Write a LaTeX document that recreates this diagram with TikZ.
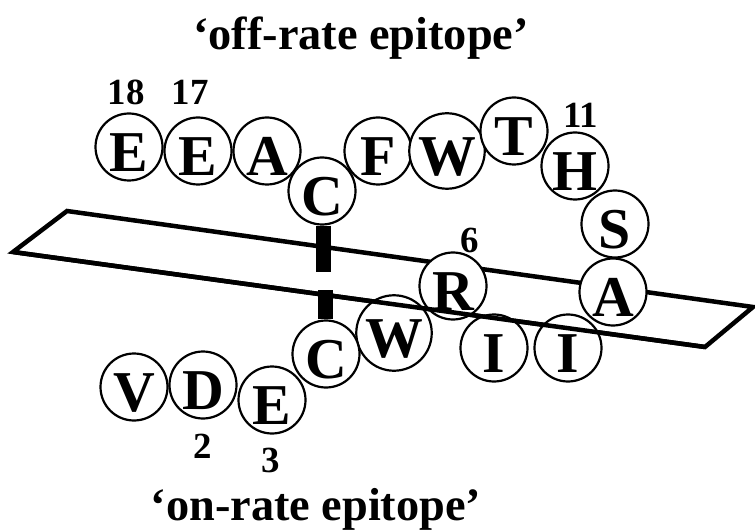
\documentclass[tikz,border=0pt]{standalone}
\usepackage{fontspec}
\setmainfont{Liberation Serif}
\begin{document}
\begin{tikzpicture}[x=1bp,y=-1bp,
  res/.style={circle,draw,line width=2.2bp,fill=white,minimum size=67bp,inner sep=0pt,
    font=\bfseries\fontsize{58}{58}\selectfont,text height=49bp,text depth=0pt},
  num/.style={font=\bfseries\fontsize{37}{37}\selectfont,inner sep=0pt},
  ttl/.style={font=\bfseries\fontsize{46.5}{46.5}\selectfont,inner sep=0pt,anchor=base},
  plane/.style={line width=4.5bp,line join=miter},
  bar/.style={line width=15bp}]
\useasboundingbox (0,0) rectangle (755,531);
% membrane plane
\coordinate (p1) at (67,211);
\coordinate (p2) at (753,307);
\coordinate (p3) at (705,347);
\coordinate (p4) at (13,252);
\draw[plane] (p4) -- (p1) -- (p2) -- (p3) -- cycle;
% titles
\node[ttl] (off) at (361,50) {‘off-rate epitope’};
\node[ttl] (on) at (316,520) {‘on-rate epitope’};
% residues, upper loop
\node[res] (e18) at (129,147) {E};
\node[res] (e17) at (198,151) {E};
\node[res] (a16) at (267,151) {A};
\node[res] (ct) at (322,191) {C};
\node[res] (f) at (378,151) {F};
\node[res] (w) at (447,151) {W};
\node[res] (t) at (514,131) {T};
\node[res] (h) at (575,166) {H};
\node[res] (s) at (615,224) {S};
\node[res] (a) at (613,292) {A};
\node[res] (r) at (453,286) {R};
% residues, lower part
\node[res] (i1) at (494,348) {I};
\node[res] (i2) at (568,348) {I};
\node[res] (wl) at (394,333) {W};
\node[res] (cb) at (326,354) {C};
\node[res] (e3) at (272,400) {E};
\node[res] (d) at (203,385) {D};
\node[res] (v) at (134,387) {V};
% bottom edge of the plane drawn over the residues
\draw[plane] (p3) -- (p4);
% disulfide bars
\coordinate (tbe) at (323,272);
\coordinate (bbe) at (325,290);
\draw[bar] (ct.south -| tbe) -- (tbe);
\draw[bar] (cb.north -| bbe) -- (bbe);
% numbers
\node[num] (n18) at (126,92.5) {18};
\node[num] (n17) at (190,92.5) {17};
\node[num] (n11) at (581,115) {11};
\node[num] (n6) at (470,240) {6};
\node[num] (n2) at (203,446) {2};
\node[num] (n3) at (271,460) {3};
\end{tikzpicture}
\end{document}
